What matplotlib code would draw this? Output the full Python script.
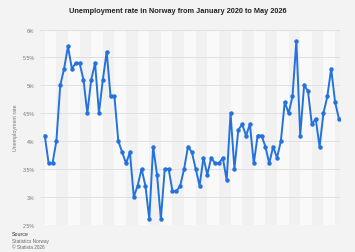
import matplotlib
matplotlib.use('Agg')
import matplotlib.pyplot as plt

plt.rcParams['font.family'] = ['Liberation Sans', 'DejaVu Sans']

# monthly unemployment rate, Jan 2020 - May 2026 (%)
rate = [4.1, 3.6, 3.6, 4.0, 5.0, 5.3, 5.7, 5.3, 5.4, 5.4, 5.1, 4.5,
        5.1, 5.4, 4.5, 5.1, 5.6, 4.8, 4.8, 4.0, 3.8, 3.6, 3.8, 3.0,
        3.2, 3.5, 3.2, 2.6, 3.9, 3.4, 2.6, 3.5, 3.5, 3.1, 3.1, 3.2,
        3.5, 3.9, 3.8, 3.5, 3.2, 3.7, 3.4, 3.7, 3.6, 3.6, 3.7, 3.3,
        4.5, 3.5, 4.2, 4.3, 4.1, 4.3, 3.6, 4.1, 4.1, 3.9, 3.6, 3.9,
        3.7, 4.0, 4.7, 4.5, 4.8, 5.8, 4.1, 5.0, 4.9, 4.3, 4.4, 3.9,
        4.5, 4.8, 5.3, 4.7, 4.4]
yticks = [2.5, 3, 3.5, 4, 4.5, 5, 5.5, 6]
ylabels = ['2.5%', '3%', '3.5%', '4%', '4.5%', '5%', '5.5%', '6%']

bg = '#f3f3f3'
fig = plt.figure(figsize=(3.55, 2.53), dpi=100, facecolor=bg)
ax = fig.add_axes([0.113, 0.108, 0.845, 0.771], facecolor=bg)

n = len(rate)
x = list(range(n))
xmax = n - 1 + 0.3

# alternating quarter bands
for k in range(0, n, 3):
    col = '#f9f9f9' if (k // 3) % 2 == 0 else '#f1f1f1'
    ax.axvspan(k, min(k + 3, xmax), color=col, lw=0, zorder=0)

for yv in yticks:
    ax.axhline(yv, color='#dcdcdc', lw=0.6, zorder=1)

ax.plot(x, rate, color='#2472dc', lw=1.4, marker='o', ms=2.2, zorder=3)

ax.set_xlim(-1.2, xmax)
ax.set_ylim(2.5, 6)
ax.set_xticks([])
ax.set_yticks(yticks)
ax.set_yticklabels(ylabels, fontsize=3.8, color='#777777')
ax.tick_params(axis='y', length=0, pad=4)
for s in ax.spines.values():
    s.set_visible(False)

ax.set_ylabel('Unemployment rate', fontsize=3.8, color='#777777', labelpad=3)

fig.text(0.5, 0.953, 'Unemployment rate in Norway from January 2020 to May 2026',
         ha='center', va='center', fontsize=5.3, fontweight='bold', color='#222222')

fig.text(0.034, 0.072, 'Source', fontsize=3.8, color='#333333', va='center')
fig.text(0.034, 0.045, 'Statistics Norway', fontsize=3.4, color='#666666', va='center')
fig.text(0.034, 0.020, '\u00a9 Statista 2026', fontsize=3.4, color='#666666', va='center')

fig.savefig('out.png', dpi=100, facecolor=bg)
